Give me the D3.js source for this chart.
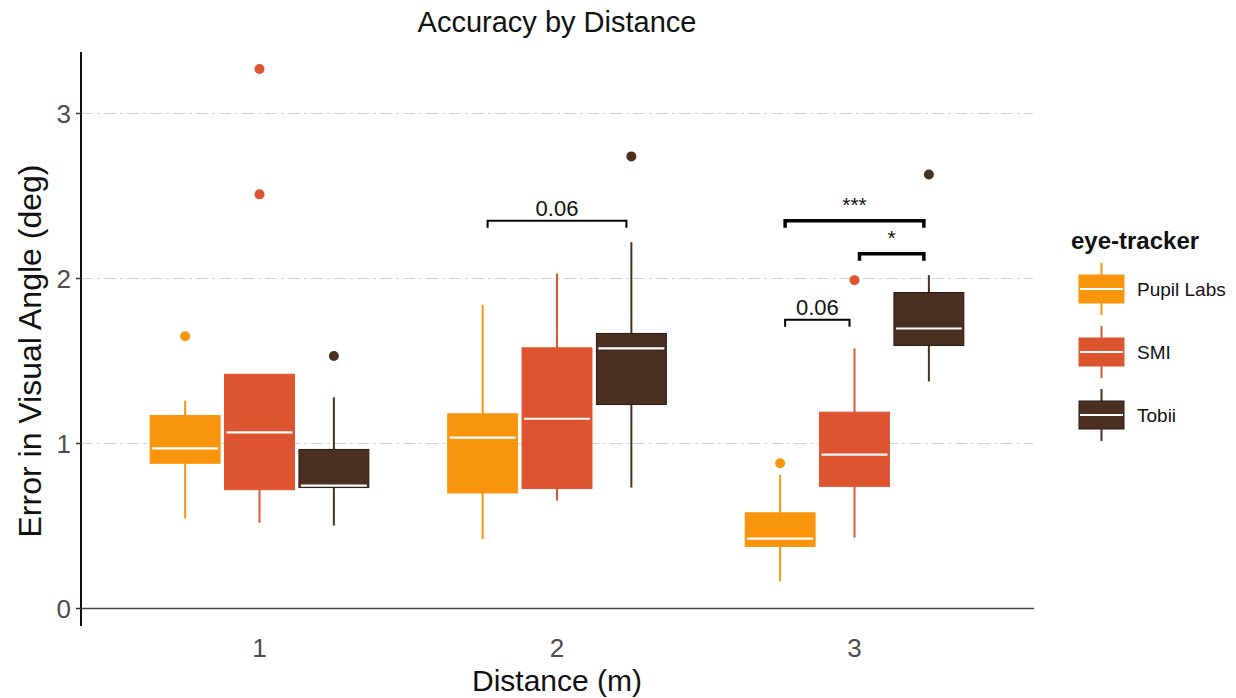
<!DOCTYPE html>
<html><head><meta charset="utf-8">
<script src="https://cdn.jsdelivr.net/npm/d3@7/dist/d3.min.js"></script>
<style>body{margin:0;background:#fff}svg{display:block}text{font-family:"Liberation Sans",Arial,sans-serif}</style>
</head><body><svg id="c" width="1236" height="698"></svg>
<script>
const distances = ["1","2","3"];
const trackers = ["Pupil Labs","SMI","Tobii"];
const colors = ["#F9950D","#DD5431","#4B3022"];
// [lowerWhisker, Q1, median, Q3, upperWhisker] per distance per tracker
const pupilStats = [[0.545,0.88,0.97,1.17,1.26],[0.42,0.70,1.036,1.18,1.84],[0.164,0.376,0.424,0.58,0.81]];
const smiStats   = [[0.52,0.72,1.067,1.42,1.42],[0.655,0.727,1.15,1.58,2.03],[0.43,0.74,0.933,1.19,1.576]];
const tobiiStats = [[0.503,0.733,0.745,0.964,1.28],[0.733,1.236,1.576,1.667,2.22],[1.376,1.594,1.697,1.915,2.02]];
const pupilOut = [[1.65],[],[0.88]];
const smiOut   = [[3.27,2.51],[],[1.99]];
const tobiiOut = [[1.53],[2.74],[2.63]];
const yTicks = [0,1,2,3];
// significance brackets: distance, from tracker, to tracker, y level, label, significant
const brackets = [
  {d:"2", a:0, b:2, y:2.35, label:"0.06", sig:false},
  {d:"3", a:0, b:2, y:2.35, label:"***", sig:true},
  {d:"3", a:1, b:2, y:2.15, label:"*", sig:true},
  {d:"3", a:0, b:1, y:1.75, label:"0.06", sig:false}
];
const stats = [pupilStats, smiStats, tobiiStats];
const outs = [pupilOut, smiOut, tobiiOut];

const svg = d3.select("#c");
const L=81, R=1033, T=52, B=626;
const y0px = 608.5, unit = 165;
const x = d3.scaleLinear().domain([0.4,3.6]).range([L,R]);
const y = d3.scaleLinear().domain([-(B-y0px)/unit,(y0px-T)/unit]).range([B,T]);
const dodge = 0.25, bw = 0.235;
const cx = (di,ti)=> x(di+1 + (ti-1)*dodge);

// gridlines
svg.append("g").selectAll("line").data(yTicks.filter(v=>v>0)).join("line")
  .attr("x1",L).attr("x2",R).attr("y1",d=>y(d)).attr("y2",d=>y(d))
  .attr("stroke","#d3d3d3").attr("stroke-width",1.2).attr("stroke-dasharray","12,4,3,4");
// zero line
svg.append("line").attr("x1",L).attr("x2",R+1).attr("y1",y(0)).attr("y2",y(0))
  .attr("stroke","#444").attr("stroke-width",1.6);

// boxes
const g = svg.append("g");
distances.forEach((dist,di)=>{
  trackers.forEach((tr,ti)=>{
    const s = stats[ti][di], c = colors[ti], xc = cx(di,ti);
    const hw = (x(bw)-x(0))/2;
    g.append("line").attr("x1",xc).attr("x2",xc).attr("y1",y(s[0])).attr("y2",y(s[1])).attr("stroke",c).attr("stroke-width",2);
    g.append("line").attr("x1",xc).attr("x2",xc).attr("y1",y(s[3])).attr("y2",y(s[4])).attr("stroke",c).attr("stroke-width",2);
    g.append("rect").attr("x",xc-hw).attr("width",2*hw).attr("y",y(s[3])).attr("height",y(s[1])-y(s[3]))
      .attr("fill",c).attr("stroke",ti===2?"#2a1a12":c).attr("stroke-width",1);
    g.append("line").attr("x1",xc-hw+2).attr("x2",xc+hw-2).attr("y1",y(s[2])).attr("y2",y(s[2])).attr("stroke","#fff").attr("stroke-width",2.2);
    g.selectAll(null).data(outs[ti][di]).join("circle").attr("cx",xc).attr("cy",d=>y(d)).attr("r",5).attr("fill",c);
  });
});

// brackets
brackets.forEach(b=>{
  const di = +b.d - 1;
  const x1 = cx(di,b.a)+5, x2 = cx(di,b.b)-5, yy = y(b.y);
  const sw = b.sig?3.5:2;
  svg.append("path").attr("d",`M${x1},${yy+7}V${yy}H${x2}V${yy+7}`).attr("fill","none").attr("stroke","#000").attr("stroke-width",sw);
  svg.append("text").attr("x",(x1+x2)/2).attr("y",b.sig? yy-9 : yy-5).attr("text-anchor","middle")
    .attr("font-size",b.sig?21:22).attr("fill","#111").text(b.label);
});

// y axis
svg.append("line").attr("x1",L).attr("x2",L).attr("y1",T).attr("y2",B).attr("stroke","#111").attr("stroke-width",2);
const ya = svg.append("g").selectAll("g").data(yTicks).join("g");
ya.append("line").attr("x1",L-5).attr("x2",L).attr("y1",d=>y(d)).attr("y2",d=>y(d)).attr("stroke","#333").attr("stroke-width",1.5);
ya.append("text").attr("x",L-10).attr("y",d=>y(d)).attr("dy","0.36em").attr("text-anchor","end").attr("font-size",26).attr("fill","#4d4d4d").text(d=>d);
// x tick labels
svg.append("g").selectAll("text").data(distances).join("text").attr("x",(d,i)=>x(i+1)).attr("y",657)
  .attr("text-anchor","middle").attr("font-size",26).attr("fill","#4d4d4d").text(d=>d);

// titles
svg.append("text").attr("x",557).attr("y",32).attr("text-anchor","middle").attr("font-size",29).attr("fill","#111").text("Accuracy by Distance");
svg.append("text").attr("x",557).attr("y",691).attr("text-anchor","middle").attr("font-size",30).attr("fill","#111").text("Distance (m)");
svg.append("text").attr("transform","translate(41,351) rotate(-90)").attr("text-anchor","middle").attr("font-size",32).attr("fill","#111").text("Error in Visual Angle (deg)");

// legend
const lg = svg.append("g");
lg.append("text").attr("x",1071).attr("y",249).attr("font-size",24).attr("font-weight","bold").attr("fill","#111").text("eye-tracker");
trackers.forEach((tr,i)=>{
  const yc = 289 + i*63, xc = 1101.5, c = colors[i];
  lg.append("line").attr("x1",xc).attr("x2",xc).attr("y1",yc-26).attr("y2",yc-14).attr("stroke",c).attr("stroke-width",2);
  lg.append("line").attr("x1",xc).attr("x2",xc).attr("y1",yc+14).attr("y2",yc+26).attr("stroke",c).attr("stroke-width",2);
  lg.append("rect").attr("x",1079).attr("width",45).attr("y",yc-14).attr("height",28).attr("fill",c).attr("stroke",i===2?"#2a1a12":c).attr("stroke-width",1);
  lg.append("line").attr("x1",1080).attr("x2",1123).attr("y1",yc).attr("y2",yc).attr("stroke","#fff").attr("stroke-width",2.2);
  lg.append("text").attr("x",1137).attr("y",yc).attr("dy","0.36em").attr("font-size",19).attr("fill","#111").text(tr);
});
</script></body></html>
